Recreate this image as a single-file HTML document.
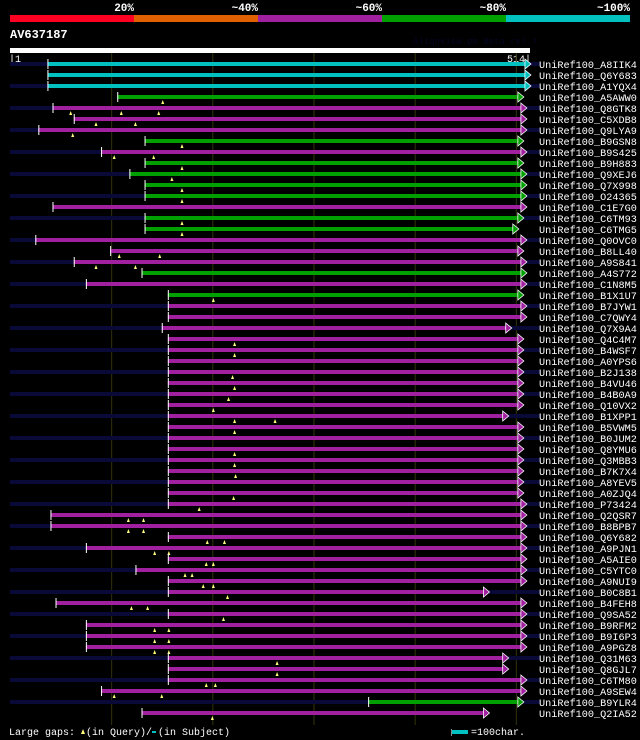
<!DOCTYPE html>
<html><head><meta charset="utf-8">
<style>
body{margin:0;background:#000;width:640px;height:740px;overflow:hidden;font-family:"Liberation Mono",monospace;}
svg{display:block}
</style></head>
<body>
<svg id="c" width="640" height="740" xmlns="http://www.w3.org/2000/svg">
<g>
<rect x="10" y="15" width="124" height="7" fill="#ff0022"/>
<rect x="134" y="15" width="124" height="7" fill="#e06000"/>
<rect x="258" y="15" width="124" height="7" fill="#a020a0"/>
<rect x="382" y="15" width="124" height="7" fill="#00a000"/>
<rect x="506" y="15" width="124" height="7" fill="#00c0c0"/>
<g font-size="11" font-weight="bold" fill="#fff" text-anchor="end">
<text x="134" y="11">20%</text><text x="258" y="11">~40%</text><text x="382" y="11">~60%</text><text x="506" y="11">~80%</text><text x="630" y="11">~100%</text>
</g></g>
<text x="10" y="38" font-size="12" font-weight="bold" fill="#fff">AV637187</text>
<text x="413" y="44" font-size="9" fill="#050525">AlignView.pm Beta rel.7</text>
<rect x="10" y="48" width="520" height="5" fill="#fff"/>
<text x="9" y="62" font-size="10" fill="#fff">|1</text>
<text x="531" y="62" font-size="10" fill="#fff" text-anchor="end">514|</text>
<g id="grid"></g>
<g id="rows"></g>
<g font-size="10" fill="#fff">
<text x="9" y="735">Large gaps:</text>
<path d="M81 734 L83 729 L85 734 Z" fill="#ffff80"/>
<text x="86" y="735">(in Query)/</text>
<rect x="152" y="731" width="4" height="2" fill="#00c0c0"/>
<text x="158" y="735">(in Subject)</text>
<rect x="451" y="729" width="1" height="7" fill="#888"/>
<rect x="452" y="730" width="16" height="4" fill="#00c0c0"/>
<text x="471" y="735">=100char.</text>
</g>
</svg>
<script>
const names=["A8IIK4","Q6Y683","A1YQX4","A5AWW0","Q8GTK8","C5XDB8","Q9LYA9","B9GSN8","B9S425","B9H883","Q9XEJ6","Q7X998","O24365","C1E7G0","C6TM93","C6TMG5","Q0OVC0","B8LL40","A9S841","A4S772","C1N8M5","B1X1U7","B7JYW1","C7QWY4","Q7X9A4","Q4C4M7","B4WSF7","A0YPS6","B2J138","B4VU46","B4B0A9","Q10VX2","B1XPP1","B5VWM5","B0JUM2","Q8YMU6","Q3MBB3","B7K7X4","A8YEV5","A0ZJQ4","P73424","Q2QSR7","B8BPB7","Q6Y682","A9PJN1","A5AIE0","C5YTC0","A9NUI9","B0C8B1","B4FEH8","Q9SA52","B9RFM2","B9I6P3","A9PGZ8","Q31M63","Q8GJL7","C6TM80","A9SEW4","B9YLR4","Q2IA52"];
// start residue of each hit on the query
const starts=[37,37,37,106,42,63,28,133,90,133,118,133,133,42,133,133,25,99,63,130,75,156,156,156,150,156,156,156,156,156,156,156,156,156,156,156,156,156,156,156,156,40,40,156,75,156,124,156,156,45,156,75,75,75,156,156,156,90,354,130];
// end residue
const ends=[509,509,509,502,505,505,505,502,505,502,505,505,505,505,502,497,505,502,505,505,505,502,505,505,490,502,502,502,502,502,502,502,487,502,502,502,502,502,502,502,505,505,505,505,505,505,505,505,468,505,505,505,505,505,487,487,505,505,502,468];
// identity class: 4=cyan 3=green 2=magenta
const idClass=[4,4,4,3,2,2,2,3,2,3,3,3,3,2,3,3,2,2,2,3,2,3,2,2,2,2,2,2,2,2,2,2,2,2,2,2,2,2,2,2,2,2,2,2,2,2,2,2,2,2,2,2,2,2,2,2,2,2,3,2];
// large gaps in query (residue positions)
const qGaps=[[],[],[],[151],[60,110,147],[85,124],[62],[170],[103,142],[170],[160],[170],[170],[],[170],[170],[],[108,148],[85,124],[],[],[201],[],[],[],[222],[222],[],[220],[222],[216],[201],[222,262],[222],[],[222],[222],[223],[],[221],[187],[117,132],[117,132],[195,212],[143,157],[194,201],[173,180],[191,201],[215],[120,136],[211],[143,157],[143,157],[143,157],[264],[264],[194,203],[103,150],[],[200]];
const colors={4:"#00c0c0",3:"#00a000",2:"#a020a0"};
const X=r=>10+r*520/514;
const NS="http://www.w3.org/2000/svg";
function mk(tag,attrs,parent){const e=document.createElementNS(NS,tag);for(const k in attrs)e.setAttribute(k,attrs[k]);parent.appendChild(e);return e;}
const grid=document.getElementById('grid');
[100,200,300,400,500].forEach(v=>{
  const l=mk('rect',{x:X(v),y:53,width:1,height:672,fill:'#33330a'},grid);
  
  
});
const rows=document.getElementById('rows');
names.forEach((n,i)=>{
  const y=64+11*i;
  const g=mk('g',{},rows);
  
  
  if(i%2===0){mk('rect',{x:10,y:y-2,width:530,height:4,fill:'#0a0a38'},g);}
  const x0=X(starts[i]),x1=X(ends[i]);
  const c=colors[idClass[i]];
  mk('rect',{x:x0,y:y-2,width:x1-x0,height:4,fill:c},g);
  mk('rect',{x:x0,y:y-5,width:1,height:10,fill:'#fff'},g);
  mk('path',{d:`M${x1} ${y-5} L${x1+6} ${y} L${x1} ${y+5} Z`,fill:c,stroke:'#fff','stroke-width':0.8},g);
  qGaps[i].forEach(q=>{
    const gx=X(q);
    const m=mk('path',{d:`M${gx-1.5} ${y+7} L${gx} ${y+3} L${gx+1.5} ${y+7} Z`,fill:'#ffff80'},g);
    
    
  });
  const t=mk('text',{x:539,y:y+4,'font-size':10.2,fill:'#fff'},g);
  t.textContent='UniRef100_'+n;
  
  
});
</script>
</body></html>
